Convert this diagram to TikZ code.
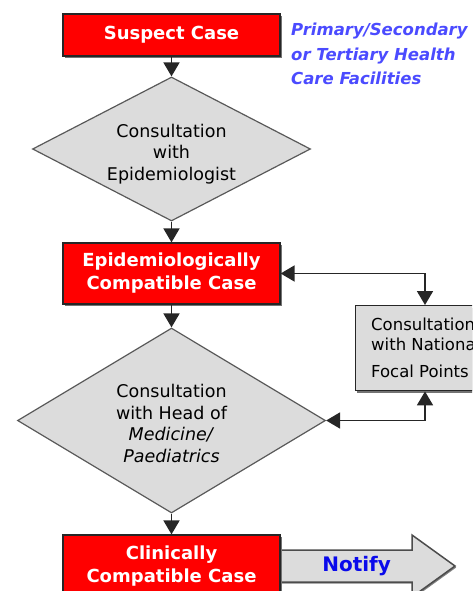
\documentclass[tikz,border=0pt]{standalone}
\usepackage{fontspec}
\setmainfont{DejaVu Sans}
\usetikzlibrary{shapes.geometric, arrows.meta, shadows, calc}
\definecolor{boxgray}{RGB}{220,220,220}
\definecolor{facblue}{RGB}{75,75,255}
\definecolor{notblue}{RGB}{10,10,235}
\begin{document}
\begin{tikzpicture}[x=1pt, y=-1pt,
  >={Triangle[width=16pt,length=14pt]},
  conn/.style={draw=black!85, line width=1.8pt},
  redbox/.style={draw=black!85, line width=1.2pt, fill=red, text=white,
    font=\bfseries\fontsize{18}{23}\selectfont, minimum width=217pt,
    inner sep=0pt, align=center,
    drop shadow={shadow xshift=1.5pt, shadow yshift=-2pt, fill=black!55, opacity=1}},
  decision/.style={diamond, draw=black!65, line width=1.2pt, fill=boxgray,
    inner sep=0pt},
  dtext/.style={align=center, inner sep=0pt, font=\fontsize{17.5}{21.5}\selectfont},
  natbox/.style={rectangle, draw=black!85, line width=1.4pt, fill=boxgray,
    minimum width=140pt, minimum height=85pt, inner xsep=14pt, align=left,
    font=\fontsize{16.5}{20}\selectfont,
    drop shadow={shadow xshift=1.5pt, shadow yshift=-2.5pt, fill=black!55, opacity=1}},
  factext/.style={text=facblue, font=\bfseries\itshape\fontsize{16.5}{24.5}\selectfont,
    align=left, inner sep=0pt},
  notifyarrow/.style={draw=black!70, line width=1.5pt, fill=boxgray,
    drop shadow={shadow xshift=1.2pt, shadow yshift=-1.5pt, fill=black!50, opacity=1}},
  notifytext/.style={text=notblue, font=\bfseries\fontsize{20}{24}\selectfont, inner sep=0pt}
]
\useasboundingbox (0,0) rectangle (472,591);
\clip (0,0) rectangle (472,591);

\node[redbox, minimum height=42pt] (b1) at (171.5,35) {Suspect Case};
\node[factext, anchor=north west] (fac) at (291,23) {Primary/Secondary\\or Tertiary Health\\Care Facilities};

\node[decision, minimum width=278pt, minimum height=144pt] (d1) at (171.5,149) {};
\node[dtext] (d1t) at ($(d1.center)+(0,5)$) {Consultation\\with\\Epidemiologist};

\node[redbox, minimum height=61pt] (b2) at (171.5,273.5) {Epidemiologically\\Compatible Case};

\node[decision, minimum width=308pt, minimum height=185pt] (d2) at (171.5,420.5) {};
\node[dtext] (d2t) at ($(d2.center)+(0,3)$)
  {Consultation\\with Head of\\\textit{Medicine/}\\\textit{Paediatrics}};

\node[natbox, anchor=north west] (nat) at (355,305)
  {Consultation\\with National\\[7pt]Focal Points};
\coordinate (natT) at ($(nat.north west)+(70,0)$);
\coordinate (natB) at ($(nat.south west)+(70,0)$);

\coordinate (b3e) at (280,566);
\draw[notifyarrow] ($(b3e)+(0,-16)$) -- ++(132,0) -- ++(0,-15)
  -- ($(b3e)+(175,0)$) -- ++(-43,31) -- ++(0,-15) -- ($(b3e)+(0,16)$);
\node[redbox, minimum height=62pt] (b3) at (171.5,566) {Clinically\\Compatible Case};
\node[notifytext] (nt) at ($(b3.east)+(76,0)$) {Notify};

\draw[conn, ->] (b1.south) -- (d1.north);
\draw[conn, ->] (d1.south) -- (b2.north);
\draw[conn, ->] (b2.south) -- (d2.north);
\draw[conn, ->] (d2.south) -- (b3.north);
\draw[conn, <->] (b2.east) -| (natT);
\draw[conn, <->] (d2.east) -| (natB);
\end{tikzpicture}
\end{document}
